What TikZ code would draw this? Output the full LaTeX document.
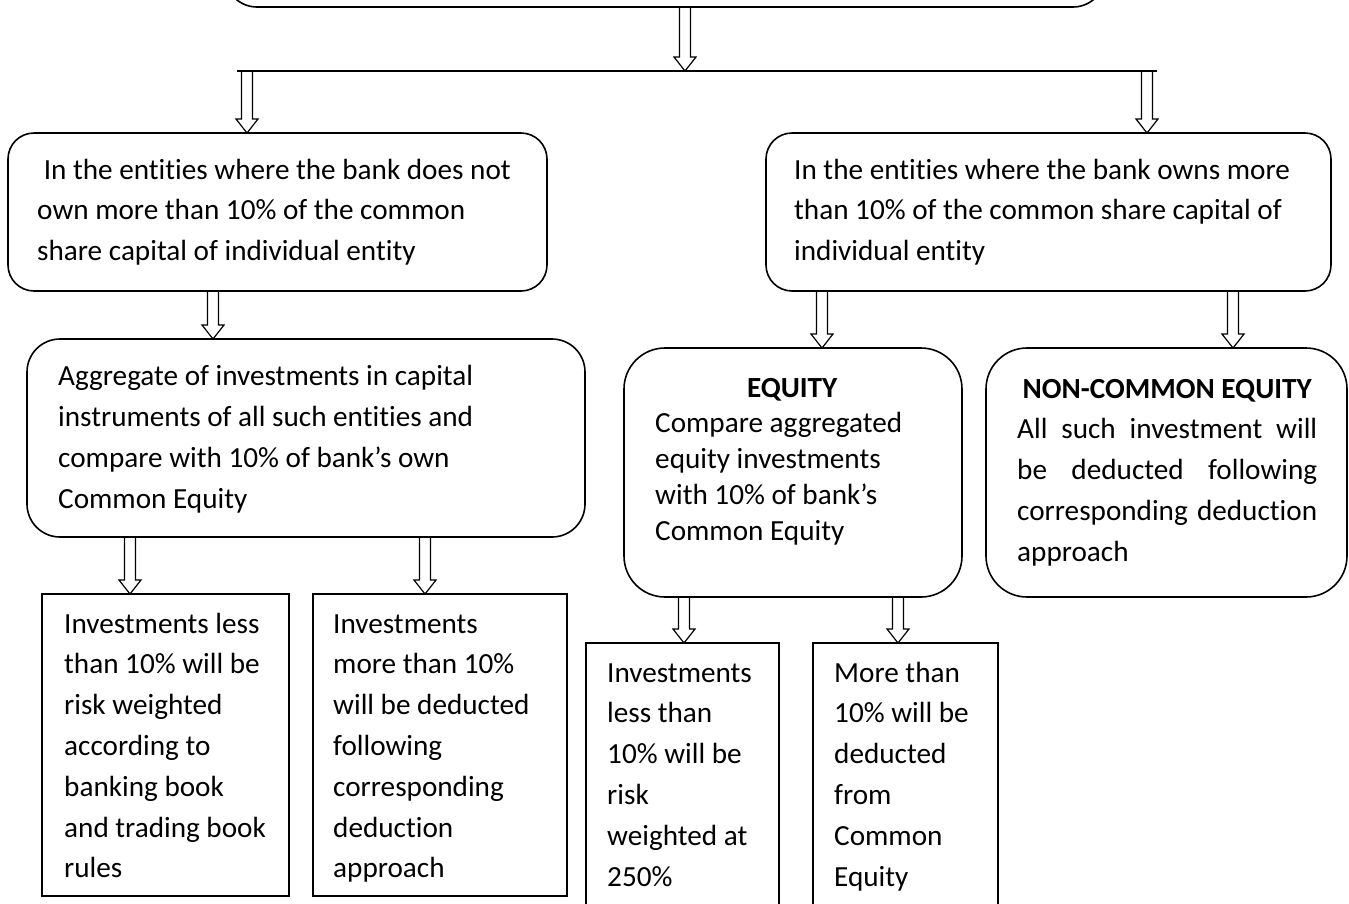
\documentclass[tikz,border=0pt]{standalone}
\usepackage{fontspec}
\setmainfont{Carlito}[Ligatures=NoCommon]
\usetikzlibrary{calc}
\newcommand\myfontA{\fontsize{29.2}{40.8}\selectfont}
\newcommand\myfontB{\fontsize{29.2}{35.8}\selectfont}
\newcommand\fixsp{\spaceskip=6.6pt plus 2pt minus 1pt\xspaceskip=6.6pt plus 2pt minus 1pt\relax\strut}
\newcommand\jline[1]{\leavevmode\hbox to 300pt{#1}}
\tikzset{
  rbox/.style={draw=black, line width=1.6pt, rectangle, rounded corners=#1, outer sep=0pt, inner sep=0pt},
  sbox/.style={draw=black, line width=1.6pt, rectangle, outer sep=0pt, inner sep=0pt},
  txt/.style={anchor=north west, inner sep=0pt, align=left, font=\myfontA},
  txtq/.style={anchor=north west, inner sep=0pt, align=left, font=\myfontB},
  harrow/.style={line width=1.2pt, line join=miter, to path={let \p1=(\tikztostart), \p2=(\tikztotarget) in
     (\x1-5.5pt,\y1) -- (\x1-5.5pt,\y2+14pt) -- (\x1-11pt,\y2+14pt) -- (\x1,\y2) -- (\x1+11pt,\y2+14pt) -- (\x1+5.5pt,\y2+14pt) -- (\x1+5.5pt,\y1)}},
  hline/.style={line width=1.6pt}
}
\begin{document}
\begin{tikzpicture}[x=1pt,y=-1pt]
\useasboundingbox (0,0) rectangle (1349,903);
\clip (0,0) rectangle (1349,903);
\fill[white] (0,0) rectangle (1349,903);

% boxes
\node[rbox=32, minimum width=880, minimum height=150] (top) at (665,-68) {};
\node[rbox=26, minimum width=539, minimum height=158] (L1) at (277.5,212) {};
\node[rbox=26, minimum width=565, minimum height=158] (R1) at (1048.5,212) {};
\node[rbox=33, minimum width=558, minimum height=198] (L2) at (306,438) {};
\node[rbox=41, minimum width=338, minimum height=249] (R2a) at (793,472.5) {};
\node[rbox=41, minimum width=361, minimum height=249] (R2b) at (1166.5,472.5) {};
\node[sbox, minimum width=247, minimum height=302] (B1) at (165.5,745) {};
\node[sbox, minimum width=254, minimum height=302] (B2) at (440,745) {};
\node[sbox, minimum width=193, minimum height=302] (B3) at (682.5,794) {};
\node[sbox, minimum width=185, minimum height=302] (B4) at (905.5,794) {};

% texts
\node[txt, text width=505] (L1t) at (37,150.4) {\fixsp\hspace*{6.6pt}In the entities where the bank does not\\own more than 10\% of the common\\share capital of individual entity};
\node[txt, text width=530] (R1t) at (794,150.4) {\fixsp In the entities where the bank owns more\\than 10\% of the common share capital of\\individual entity};
\node[txt, text width=520] (L2t) at (58,356.9) {\fixsp Aggregate of investments in capital\\instruments of all such entities and\\compare with 10\% of bank’s own\\Common Equity};
\node[txtq, text width=274] (R2at) at (655,371.9) {\fixsp\makebox[\hsize][c]{\bfseries EQUITY}\\Compare aggregated\\equity investments\\with 10\% of bank’s\\Common Equity};
\node[txt, text width=300] (R2bt) at (1017,369.4) {\fixsp\makebox[\hsize][c]{\bfseries NON-COMMON EQUITY}\\\jline{All\hfill such\hfill investment\hfill will}\\\jline{be\hfill deducted\hfill following}\\\jline{corresponding\hfill deduction}\\approach};
\node[txt, text width=222] (B1t) at (64,604.4) {\fixsp Investments less\\than 10\% will be\\risk weighted\\according to\\banking book\\and trading book\\rules};
\node[txt, text width=230] (B2t) at (333,604.4) {\fixsp Investments\\more than 10\%\\will be deducted\\following\\corresponding\\deduction\\approach};
\node[txt, text width=170] (B3t) at (607,653.4) {\fixsp Investments\\less than\\10\% will be\\risk\\weighted at\\250\%};
\node[txt, text width=160] (B4t) at (834,653.4) {\fixsp More than\\10\% will be\\deducted\\from\\Common\\Equity};

% horizontal bar
\coordinate (hl) at (237,71);
\coordinate (hr) at (1157,71);
\draw[hline] (hl) -- (hr);

% arrow x positions
\coordinate (ax0) at (685,0);
\coordinate (ax1) at (247,0);
\coordinate (ax2) at (1147,0);
\coordinate (ax3) at (213,0);
\coordinate (ax4) at (822,0);
\coordinate (ax5) at (1233,0);
\coordinate (ax6) at (130,0);
\coordinate (ax7) at (425,0);
\coordinate (ax8) at (684,0);
\coordinate (ax9) at (898,0);

\draw[harrow] (top.south -| ax0) to (hl -| ax0);
\draw[harrow] (hl -| ax1) to (L1.north -| ax1);
\draw[harrow] (hl -| ax2) to (R1.north -| ax2);
\draw[harrow] (L1.south -| ax3) to (L2.north -| ax3);
\draw[harrow] (R1.south -| ax4) to (R2a.north -| ax4);
\draw[harrow] (R1.south -| ax5) to (R2b.north -| ax5);
\draw[harrow] (L2.south -| ax6) to (B1.north -| ax6);
\draw[harrow] (L2.south -| ax7) to (B2.north -| ax7);
\draw[harrow] (R2a.south -| ax8) to (B3.north -| ax8);
\draw[harrow] (R2a.south -| ax9) to (B4.north -| ax9);
\end{tikzpicture}
\end{document}
